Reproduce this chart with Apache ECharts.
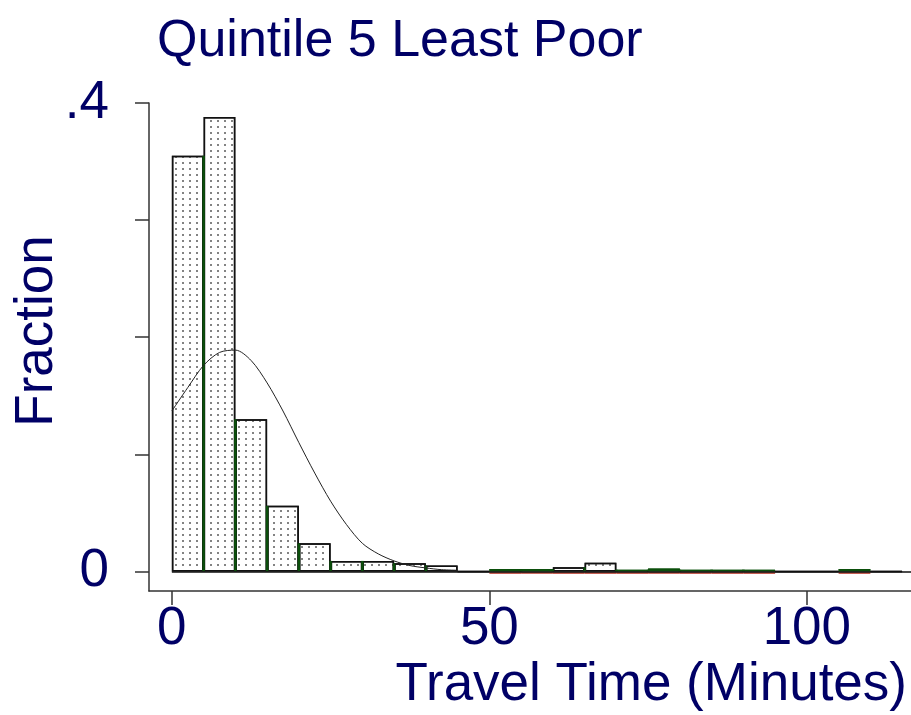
<!DOCTYPE html>
<html><head><meta charset="utf-8">
<script src="https://cdn.jsdelivr.net/npm/echarts@6/dist/echarts.min.js"></script>
<style>html,body{margin:0;padding:0;background:#fff}#chart{width:911px;height:715px}</style>
</head><body><div id="chart"></div>
<script>
// ---- data ----
const titleText = 'Quintile 5 Least Poor';
const xAxisTitle = 'Travel Time (Minutes)';
const yAxisTitle = 'Fraction';
const binWidth = 5;
const binStarts    = [0, 5, 10, 15, 20, 25, 30, 35, 40, 45, 50, 55, 60, 65, 70, 75, 80, 85, 90, 95, 100, 105, 110];
const binFractions = [0.355, 0.388, 0.130, 0.056, 0.024, 0.009, 0.009, 0.007, 0.005, 0, 0.002, 0.002, 0.0036, 0.0075, 0.0015, 0.0025, 0.0015, 0.0015, 0.0015, 0, 0, 0.002, 0];
const curveX = [0, 2.5, 5, 7.5, 10, 12.5, 15, 17.5, 20, 22.5, 25, 27.5, 30, 32.5, 35, 37.5, 40, 42.5, 45];
const curveY = [0.137, 0.157, 0.176, 0.187, 0.189, 0.180, 0.161, 0.137, 0.110, 0.084, 0.060, 0.040, 0.024, 0.015, 0.009, 0.005, 0.003, 0.0015, 0.001];
const xTickValues = [0, 50, 100];
const yTickValues = [0, 0.1, 0.2, 0.3, 0.4];
const yLabelValues = [0, 0.4];
const xRange = [-3.6, 116.4];
const yRange = [-0.0167, 0.4];

// ---- style ----
const FONT = "'Liberation Sans', Arial, sans-serif";
const NAVY = '#000066';
const AXIS = '#333';
const GREEN = '#0b4f0b';
const RED = '#b02a1a';
const THIN = 0.003;

const barData = binStarts.map((s, i) => {
  const v = binFractions[i];
  const item = { value: [s + binWidth / 2, v] };
  if (v > 0 && v < THIN) {
    item.itemStyle = { color: GREEN, borderColor: GREEN };
  }
  return item;
});

const edgeData = binStarts.map((s, i) => [s, i]);

const chart = echarts.init(document.getElementById('chart'), null, { renderer: 'canvas' });
chart.setOption({
  backgroundColor: '#fff',
  animation: false,
  title: {
    text: titleText, left: 152, top: 11,
    textStyle: { fontFamily: FONT, fontSize: 52, fontWeight: 'normal', color: NAVY }
  },
  grid: { left: 149, right: 0, top: 103, bottom: 124, containLabel: false, outerBoundsMode: 'none' },
  xAxis: {
    type: 'value', min: xRange[0], max: xRange[1],
    name: xAxisTitle, nameLocation: 'end', nameGap: -4, nameMoveOverlap: false,
    nameTextStyle: { fontFamily: FONT, fontSize: 53, color: NAVY, align: 'right', verticalAlign: 'top', padding: [68, 0, 0, 0] },
    axisLine: { show: true, onZero: false, lineStyle: { color: AXIS, width: 1.5 } },
    axisTick: { show: true, customValues: xTickValues, length: 14, lineStyle: { color: AXIS, width: 1.5 } },
    axisLabel: { customValues: xTickValues, margin: 12, fontFamily: FONT, fontSize: 53, color: NAVY },
    splitLine: { show: false }
  },
  yAxis: {
    type: 'value', min: yRange[0], max: yRange[1],
    name: yAxisTitle, nameLocation: 'middle', nameGap: 85, nameMoveOverlap: false,
    nameTextStyle: { fontFamily: FONT, fontSize: 53, color: NAVY, padding: [0, 0, 0, 32] },
    axisLine: { show: true, onZero: false, lineStyle: { color: AXIS, width: 1.5 } },
    axisTick: { show: true, customValues: yTickValues, length: 14, lineStyle: { color: AXIS, width: 1.5 } },
    axisLabel: {
      customValues: yLabelValues, margin: 40, fontFamily: FONT, fontSize: 53, color: NAVY,
      formatter: v => String(+v.toFixed(4)).replace(/^0\./, '.')
    },
    splitLine: { show: false }
  },
  series: [
    {
      type: 'bar', data: barData, barWidth: '100%', z: 2,
      itemStyle: {
        color: '#fff', borderColor: '#111', borderWidth: 1.5,
        decal: { symbol: 'rect', symbolSize: 0.75, dashArrayX: [2, 5], dashArrayY: [2, 4], color: '#222', rotation: 0 }
      },
      markLine: {
        silent: true, symbol: 'none', label: { show: false },
        lineStyle: { color: '#111', width: 1.5, type: 'solid' },
        data: [[{ coord: [0, 0] }, { coord: [xRange[1], 0] }]]
      }
    },
    {
      type: 'custom', z: 3, data: edgeData,
      renderItem: (params, api) => {
        const i = api.value(1);
        const x = api.value(0);
        const children = [];
        if (i > 0) {
          const h = Math.min(binFractions[i - 1], binFractions[i]);
          if (h > 0) {
            const p0 = api.coord([x, 0]);
            const p1 = api.coord([x, h]);
            children.push({ type: 'line', shape: { x1: p0[0], y1: p0[1], x2: p1[0], y2: p1[1] }, style: { stroke: GREEN, lineWidth: 2.5 } });
          }
        }
        if (x >= 50 && binFractions[i] > 0) {
          const a = api.coord([x, 0]);
          const b = api.coord([x + binWidth, 0]);
          children.push({ type: 'line', shape: { x1: a[0], y1: a[1] + 1.5, x2: b[0], y2: b[1] + 1.5 }, style: { stroke: RED, lineWidth: 1.5 } });
        }
        return { type: 'group', children };
      }
    },
    {
      type: 'line', z: 4, smooth: 0.3, showSymbol: false, symbol: 'none',
      data: curveX.map((x, i) => [x, curveY[i]]),
      lineStyle: { color: '#222', width: 1 }
    }
  ]
});
</script>
</body></html>
